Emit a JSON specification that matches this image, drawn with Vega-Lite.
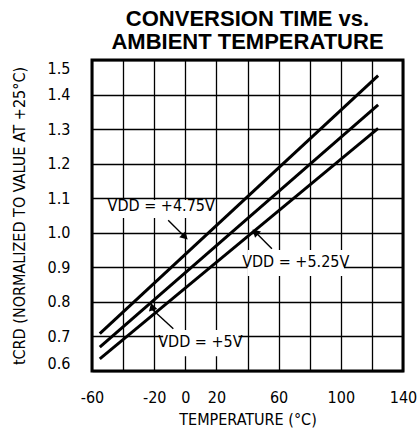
{
  "$schema": "https://vega.github.io/schema/vega-lite/v6.json",
  "width": 311,
  "height": 311,
  "padding": {"left": 11, "top": 8, "right": 2, "bottom": 4},
  "background": "white",
  "title": {
    "text": ["CONVERSION TIME vs.", "AMBIENT TEMPERATURE"],
    "font": "Liberation Sans",
    "fontWeight": "bold",
    "fontSize": 22,
    "lineHeight": 23,
    "color": "black",
    "anchor": "middle",
    "offset": 6
  },
  "config": {
    "view": {"stroke": "black", "strokeWidth": 3},
    "axis": {
      "grid": true,
      "gridColor": "black",
      "gridOpacity": 1,
      "gridWidth": 1.3,
      "ticks": false,
      "domain": false,
      "labelFont": "DejaVu Sans Condensed",
      "labelFontSize": 16,
      "labelColor": "black",
      "titleFont": "DejaVu Sans Condensed",
      "titleFontSize": 16,
      "titleFontWeight": "normal",
      "titleColor": "black"
    }
  },
  "datasets": {
    "lines": [
      {"v": "4.75", "t": -55, "r": 0.708},
      {"v": "4.75", "t": 124, "r": 1.455},
      {"v": "5", "t": -55, "r": 0.669},
      {"v": "5", "t": 124, "r": 1.37},
      {"v": "5.25", "t": -55, "r": 0.635},
      {"v": "5.25", "t": 124, "r": 1.302}
    ],
    "boxes": [
      {"v": "4.75", "t": -46.5, "t2": 14.8, "r": 1.043, "r2": 1.095},
      {"v": "5.25", "t": 40, "t2": 102, "r": 0.875, "r2": 0.95},
      {"v": "5", "t": -14.2, "t2": 34.2, "r": 0.643, "r2": 0.719}
    ],
    "arrows": [
      {"v": "4.75", "t": -0.2, "r": 0.988, "t0": -11, "r0": 1.036},
      {"v": "5.25", "t": 45, "r": 1.002, "t0": 55.7, "r0": 0.954},
      {"v": "5", "t": -21.7, "r": 0.78, "t0": -7.7, "r0": 0.722}
    ],
    "labels": [
      {"v": "4.75", "t": -15.5, "r": 1.077, "label": "VDD = +4.75V"},
      {"v": "5.25", "t": 71, "r": 0.915, "label": "VDD = +5.25V"},
      {"v": "5", "t": 9.7, "r": 0.684, "label": "VDD = +5V"}
    ]
  },
  "encoding": {
    "x": {
      "field": "t",
      "type": "quantitative",
      "title": "TEMPERATURE (°C)",
      "scale": {"domain": [-60, 140], "nice": false, "zero": false},
      "axis": {
        "values": [-60, -40, -20, 0, 20, 40, 60, 80, 100, 120, 140],
        "labelExpr": "indexof([-40, 40, 80, 120], datum.value) >= 0 ? '' : replace(datum.label, '\u2212', '-')",
        "labelPadding": 18,
        "labelDx": 3,
        "labelFlush": false,
        "titlePadding": 6
      }
    },
    "y": {
      "field": "r",
      "type": "quantitative",
      "title": "tCRD (NORMALIZED TO VALUE AT +25°C)",
      "scale": {"domain": [0.6, 1.5], "nice": false, "zero": false},
      "axis": {
        "values": [0.6, 0.7, 0.8, 0.9, 1.0, 1.1, 1.2, 1.3, 1.4, 1.5],
        "format": ".1f",
        "labelFlush": true,
        "labelPadding": 22,
        "titlePadding": 20
      }
    }
  },
  "layer": [
    {
      "data": {"name": "boxes"},
      "mark": {"type": "rect", "fill": "white", "stroke": null},
      "encoding": {
        "x2": {"field": "t2"},
        "y2": {"field": "r2"}
      }
    },
    {
      "data": {"name": "lines"},
      "mark": {"type": "line", "color": "black", "strokeWidth": 3},
      "encoding": {
        "detail": {"field": "v", "type": "nominal"}
      }
    },
    {
      "data": {"name": "arrows"},
      "mark": {"type": "rule", "color": "black", "strokeWidth": 1.4},
      "encoding": {
        "x2": {"field": "t0"},
        "y2": {"field": "r0"}
      }
    },
    {
      "data": {"name": "arrows"},
      "mark": {"type": "point", "shape": "triangle-up", "filled": true, "color": "black", "opacity": 1, "size": 75},
      "encoding": {
        "angle": {
          "field": "v",
          "type": "nominal",
          "scale": {"domain": ["4.75", "5", "5.25"], "range": [135, 313, 315]},
          "legend": null
        }
      }
    },
    {
      "data": {"name": "labels"},
      "mark": {"type": "text", "font": "DejaVu Sans Condensed", "fontSize": 16, "color": "black", "align": "center", "baseline": "middle"},
      "encoding": {
        "text": {"field": "label"}
      }
    }
  ]
}
